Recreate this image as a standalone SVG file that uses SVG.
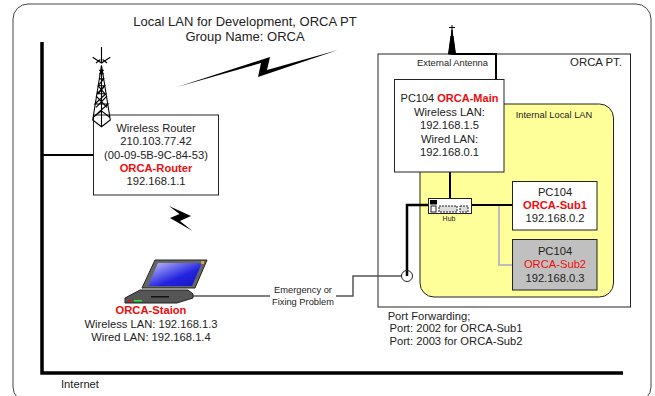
<svg xmlns="http://www.w3.org/2000/svg" width="655" height="396" viewBox="0 0 655 396">
<style>
text{font-family:"Liberation Sans",Arial,sans-serif;font-size:11.2px;fill:#222;text-anchor:middle}
.r{fill:#f00c0c;font-weight:bold}
.s{font-size:9.3px}
.t{font-size:13px}
.box{fill:#fff;stroke:#222;stroke-width:1}
.thick{fill:none;stroke:#000;stroke-width:3.5}
.med{fill:none;stroke:#000;stroke-width:2}
</style>
<defs>
<linearGradient id="screen" x1="0" y1="0" x2="1" y2="1"><stop offset="0" stop-color="#c4c4fa"/><stop offset="0.6" stop-color="#2323e0"/><stop offset="1" stop-color="#1515c0"/></linearGradient>
<g id="tower" fill="none" stroke="#000" stroke-width="1">
<path d="M0 0V14M-8 9L0 14L8 9M-5 14L-1 11M5 14L1 11"/>
<path d="M0 16L-8 64L0 70L8 64ZM0 16V70M-2 28H2L-3 34H3L-4 41H4L-6 50H6L-8 62L0 56L8 62"/>
<path d="M-2 20L2 24M2 20L-2 24M-3 34L3 41M3 34L-3 41M-5 43L5 53M5 43L-5 53"/>
</g>
</defs>
<rect width="655" height="396" fill="#fff"/>
<rect id="frame" x="13" y="4" width="638" height="398" rx="15" fill="none" stroke="#444" stroke-width="1"/>
<g id="title"><text x="245" y="26" class="t">Local LAN for Development, ORCA PT</text>
<text x="245" y="40.500" class="t">Group Name: ORCA</text></g>
<path id="bolt1" d="M177 87L270 57L267 70L338 50L258 77L261 63Z" fill="#000"/>
<path id="bolt2" d="M169 206L191 216L180 221L192.500 231L170 218L179.500 214Z" fill="#000"/>
<g id="orca-pt"><rect x="378" y="54" width="252.500" height="253" fill="#fff" stroke="#222"/>
<text x="452.500" y="65.500" class="s">External Antenna</text>
<text x="596" y="66" style="font-size:11.400px">ORCA PT.</text></g>
<g id="internal-lan"><rect x="420" y="104" width="193.500" height="193" rx="14" fill="#ffff99" stroke="#222"/>
<text x="554" y="118" class="s">Internal Local LAN</text></g>
<g id="connectors">
<path class="thick" d="M42 42V373H623"/>
<path class="med" d="M42 155H94"/>
<path class="med" d="M452 54H496V80"/>
<path class="med" d="M450 172V198"/>
<path class="med" d="M471 205H512"/>
<path fill="none" stroke="#bdbdbd" stroke-width="2" d="M499 206V265H513"/>
<path fill="none" stroke="#000" stroke-width="2.500" d="M428 205H407V276"/>
<path fill="none" stroke="#555" stroke-width="1.500" d="M192 296H270M336 296H353V276H402"/>
</g>
<g id="tower-ext"><path d="M452 25V54M449 27.500H455M452 30L449 54H455ZM451 36L448.500 54H455.500L453 36Z" stroke="#000" stroke-width="1"/></g>
<g id="router"><rect class="box" x="93.500" y="115" width="125" height="80"/>
<text x="156" y="132">Wireless Router</text>
<text x="156" y="145">210.103.77.42</text>
<text x="156" y="159">(00-09-5B-9C-84-53)</text>
<text x="156" y="172" class="r">ORCA-Router</text>
<text x="156" y="185">192.168.1.1</text></g>
<g id="tower-router"><use href="#tower" transform="translate(101.500 47) scale(1.100 1.140)"/></g>
<g id="main"><rect class="box" x="394.500" y="79.500" width="109.500" height="92.500"/>
<text x="449.500" y="102" style="font-size:11px"><tspan>PC104 </tspan><tspan class="r">ORCA-Main</tspan></text>
<text x="449.500" y="116">Wireless LAN:</text>
<text x="449.500" y="129">192.168.1.5</text>
<text x="449.500" y="143">Wired LAN:</text>
<text x="449.500" y="156">192.168.0.1</text></g>
<g id="hub"><rect x="428.500" y="198.500" width="43" height="15" fill="#fff" stroke="#222"/>
<rect x="430" y="200" width="7" height="4.500" fill="#000"/>
<rect x="431" y="206" width="5" height="6" fill="#fff" stroke="#222"/>
<rect x="439" y="206" width="18" height="6" fill="#ddd" stroke="#222" stroke-dasharray="2 1"/>
<rect x="460" y="206" width="8" height="6" fill="#ddd" stroke="#222" stroke-dasharray="2 1"/>
<text x="449" y="221" style="font-size:7px">Hub</text></g>
<g id="sub1"><rect class="box" x="512.500" y="181.500" width="84.500" height="48.500"/>
<text x="555" y="196">PC104</text><text x="555" y="209" class="r">ORCA-Sub1</text><text x="555" y="222">192.168.0.2</text></g>
<g id="sub2"><rect x="512.500" y="239.500" width="84.500" height="50.500" fill="#c0c0c0" stroke="#222"/>
<text x="555" y="255">PC104</text><text x="555" y="268" style="fill:#f00c0c">ORCA-Sub2</text><text x="555" y="282">192.168.0.3</text></g>
<g id="port"><circle cx="407" cy="276" r="5.500" fill="none" stroke="#222"/></g>
<g id="laptop">
<path d="M155 260H207L195 288H142Z" fill="#666" stroke="#222"/>
<path d="M158 263H202L192 286H148Z" fill="url(#screen)"/>
<rect x="201" y="261" width="3" height="3" fill="#e8a020"/>
<path d="M125 298L140 290H188L193 294V298L177 303H125Z" fill="#555" stroke="#222"/>
<rect x="128" y="300" width="3" height="1.500" fill="#f00"/><rect x="134" y="300" width="8" height="1.500" fill="#2e2"/>
<rect x="151" y="296" width="18" height="1.500" fill="#111"/>
</g>
<g id="station"><text x="151" y="314" class="r">ORCA-Staion</text>
<text x="151" y="328">Wireless LAN: 192.168.1.3</text>
<text x="151" y="341">Wired LAN: 192.168.1.4</text></g>
<g id="labels">
<text x="303" y="293" class="s">Emergency or</text><text x="303" y="305" class="s">Fixing Problem</text>
<text x="429" y="320">Port Forwarding;</text>
<text x="456" y="332">Port: 2002 for ORCA-Sub1</text>
<text x="456" y="345">Port: 2003 for ORCA-Sub2</text>
<text x="80" y="388">Internet</text></g>
</svg>
